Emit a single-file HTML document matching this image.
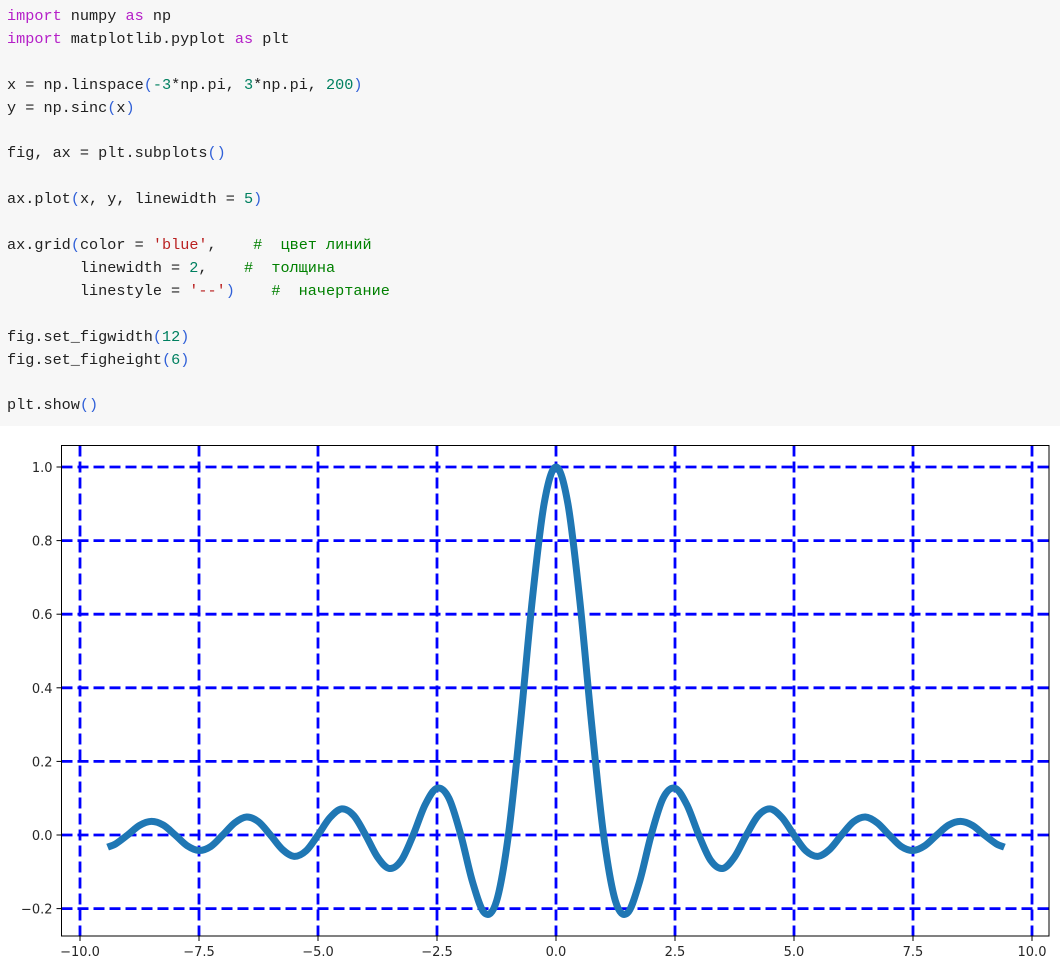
<!DOCTYPE html>
<html><head><meta charset="utf-8">
<style>
html,body{margin:0;padding:0;background:#fff;width:1063px;height:976px;overflow:hidden}
#code{position:absolute;left:0;top:0;width:1060px;height:426px;background:#f7f7f7}
#code pre{margin:0;position:absolute;left:7px;top:5px;font-family:"Liberation Mono",monospace;font-size:15.2px;line-height:22.9px;color:#212121}
.k{color:#b520c8}.p{color:#3060d8}.n{color:#008060}.s{color:#ba2121}.c{color:#008000}
svg{position:absolute;left:0;top:0}
</style></head><body>
<div id="code"><pre><span class="k">import</span> numpy <span class="k">as</span> np
<span class="k">import</span> matplotlib.pyplot <span class="k">as</span> plt

x = np.linspace<span class="p">(</span><span class="n">-3</span>*np.pi, <span class="n">3</span>*np.pi, <span class="n">200</span><span class="p">)</span>
y = np.sinc<span class="p">(</span>x<span class="p">)</span>

fig, ax = plt.subplots<span class="p">()</span>

ax.plot<span class="p">(</span>x, y, linewidth = <span class="n">5</span><span class="p">)</span>

ax.grid<span class="p">(</span>color = <span class="s">'blue'</span>,    <span class="c">#  цвет линий</span>
        linewidth = <span class="n">2</span>,    <span class="c">#  толщина</span>
        linestyle = <span class="s">'--'</span><span class="p">)</span>    <span class="c">#  начертание</span>

fig.set_figwidth<span class="p">(</span><span class="n">12</span><span class="p">)</span>
fig.set_figheight<span class="p">(</span><span class="n">6</span><span class="p">)</span>

plt.show<span class="p">()</span></pre></div>
<svg id="chart" width="1063" height="976"></svg>
<script>
const xTicks=[-10,-7.5,-5,-2.5,0,2.5,5,7.5,10];
const xTickLabels=["\u221210.0","\u22127.5","\u22125.0","\u22122.5","0.0","2.5","5.0","7.5","10.0"];
const yTicks=[-0.2,0,0.2,0.4,0.6,0.8,1.0];
const yTickLabels=["\u22120.2","0.0","0.2","0.4","0.6","0.8","1.0"];
const xPos=[0,0.25,0.5,0.75,1,1.25,1.5,1.75,2,2.25,2.5,2.75,3,3.25,3.5,3.75,4,4.25,4.5,4.75,5,5.25,5.5,5.75,6,6.25,6.5,6.75,7,7.25,7.5,7.75,8,8.25,8.5,8.75,9,9.25,9.42];
const yPos=[1,0.900,0.637,0.300,0,-0.180,-0.212,-0.129,0,0.100,0.127,0.082,0,-0.069,-0.091,-0.060,0,0.053,0.071,0.047,0,-0.043,-0.058,-0.039,0,0.036,0.049,0.033,0,-0.031,-0.042,-0.029,0,0.027,0.037,0.026,0,-0.024,-0.033];

const NS="http://www.w3.org/2000/svg";
const svg=document.getElementById('chart');
const L=61.5,R=1049,T=445.5,B=936;
const sx=v=>80+(v+10)*(1032-80)/20;
const sy=v=>835-v*(835-467);
function mk(tag,attrs,parent){const e=document.createElementNS(NS,tag);for(const k in attrs)e.setAttribute(k,attrs[k]);(parent||svg).appendChild(e);return e;}

// curve data (mirror symmetric sinc samples)
const xs=[],ys=[];
for(let i=xPos.length-1;i>0;i--){xs.push(-xPos[i]);ys.push(yPos[i]);}
for(let i=0;i<xPos.length;i++){xs.push(xPos[i]);ys.push(yPos[i]);}

// grid
const grid=mk('g',{});


xTicks.forEach(v=>{const l=mk('line',{x1:sx(v),x2:sx(v),y1:T,y2:B,stroke:'#0000ff','stroke-width':2.8,'stroke-dasharray':'11,5'},grid);

});
yTicks.forEach(v=>{const l=mk('line',{x1:L,x2:R,y1:sy(v),y2:sy(v),stroke:'#0000ff','stroke-width':2.8,'stroke-dasharray':'11,5'},grid);

});

// curve (Catmull-Rom)
const P=xs.map((x,i)=>[sx(x),sy(ys[i])]);
let d='M'+P[0][0]+','+P[0][1];
for(let i=0;i<P.length-1;i++){const p0=P[Math.max(i-1,0)],p1=P[i],p2=P[i+1],p3=P[Math.min(i+2,P.length-1)];
d+=' C'+(p1[0]+(p2[0]-p0[0])/6)+','+(p1[1]+(p2[1]-p0[1])/6)+' '+(p2[0]-(p3[0]-p1[0])/6)+','+(p2[1]-(p3[1]-p1[1])/6)+' '+p2[0]+','+p2[1];}
const line=mk('path',{d:d,fill:'none',stroke:'#1f77b4','stroke-width':7,'stroke-linejoin':'round','stroke-linecap':'butt'});



// axes frame
const frame=mk('rect',{x:L,y:T,width:R-L,height:B-T,fill:'none',stroke:'#000','stroke-width':1});



// ticks
xTicks.forEach((v,i)=>{mk('line',{x1:sx(v),x2:sx(v),y1:B,y2:B+5,stroke:'#000','stroke-width':1});
const t=mk('text',{x:sx(v),y:B+20,'text-anchor':'middle','font-family':'DejaVu Sans, sans-serif','font-size':13,fill:'#262626'});
t.textContent=xTickLabels[i];

});
yTicks.forEach((v,i)=>{mk('line',{x1:L-5,x2:L,y1:sy(v),y2:sy(v),stroke:'#000','stroke-width':1});
const t=mk('text',{x:L-9,y:sy(v)+5,'text-anchor':'end','font-family':'DejaVu Sans, sans-serif','font-size':13,fill:'#262626'});
t.textContent=yTickLabels[i];

});
</script>
</body></html>
